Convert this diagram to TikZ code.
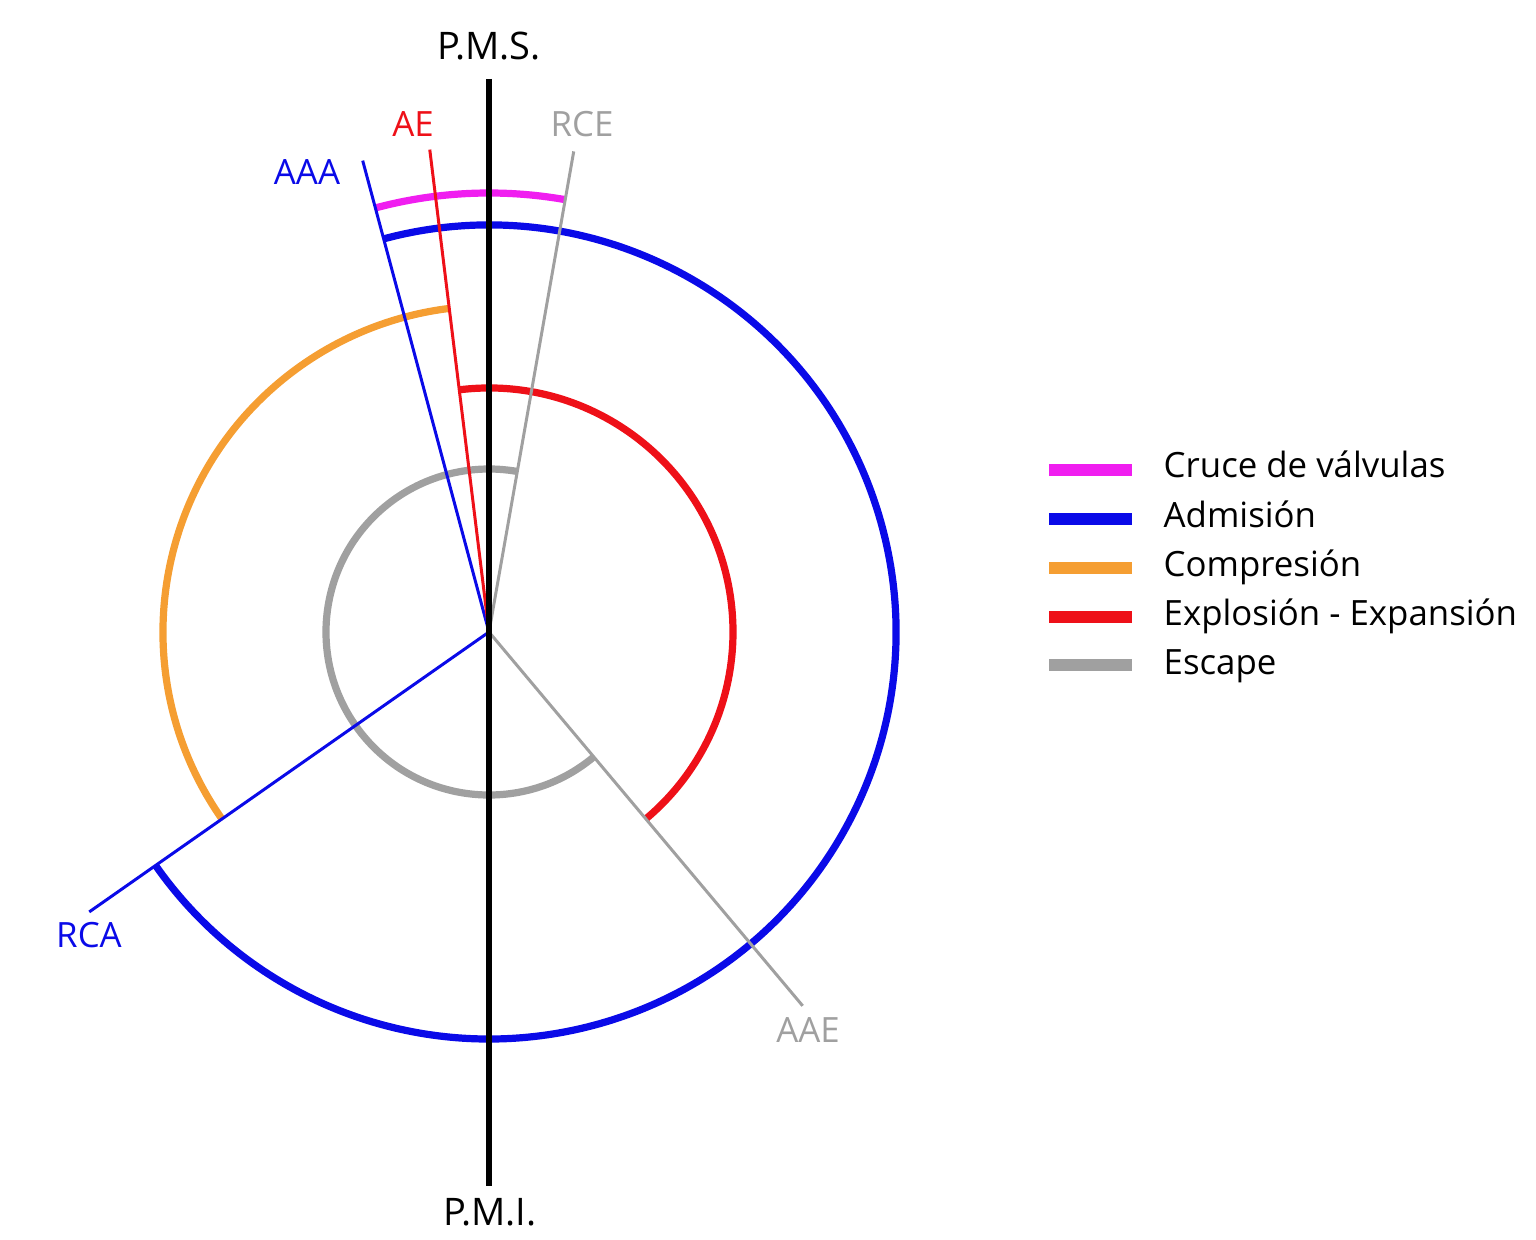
\documentclass[tikz,border=0pt]{standalone}
\usepackage{fontspec}
\setmainfont{Open Sans}
\definecolor{cblue}{RGB}{10,10,232}
\definecolor{cmag}{RGB}{240,30,240}
\definecolor{corange}{RGB}{245,158,50}
\definecolor{cred}{RGB}{238,16,24}
\definecolor{cgray}{RGB}{160,160,160}
\begin{document}
\begin{tikzpicture}[x=0.01cm,y=0.01cm,
  thickarc/.style={line width=2.05pt},
  thinline/.style={line width=0.85pt},
  legbar/.style={line width=3.4pt},
  lbl/.style={anchor=base,inner sep=0pt,font=\fontsize{9.9}{12}\selectfont},
  biglbl/.style={anchor=base,inner sep=0pt,font=\fontsize{10.8}{13}\selectfont},
  legtxt/.style={anchor=base west,inner sep=0pt,font=\fontsize{9.9}{12}\selectfont}]
\useasboundingbox (-489,632) rectangle (1047,-607);
\coordinate (O) at (0,0);
\coordinate (aaa) at (105:488);
\coordinate (ae) at (97:486);
\coordinate (rce) at (80:488);
\coordinate (rca) at (215:488);
\coordinate (aae) at (310:488);
\coordinate (pmsT) at (0,553);
\coordinate (pmiB) at (0,-554);
% arcs
\draw[thickarc,cmag] (105:439) arc[start angle=105,end angle=80,radius=439];
\draw[thickarc,cblue] (105:407) arc[start angle=105,end angle=-145,radius=407];
\draw[thickarc,corange] (215:326) arc[start angle=215,end angle=97,radius=326];
\draw[thickarc,cred] (97:244) arc[start angle=97,end angle=-50,radius=244];
\draw[thickarc,cgray] (310:163) arc[start angle=310,end angle=80,radius=163];
% radial lines
\draw[thinline,cblue] (O) -- (aaa);
\draw[thinline,cred] (O) -- (ae);
\draw[thinline,cgray] (O) -- (rce);
\draw[thinline,cblue] (O) -- (rca);
\draw[thinline,cgray] (O) -- (aae);
\draw[line width=1.8pt,black] (pmsT) -- (pmiB);
% labels
\node[biglbl] (pms) at (0,572) {P.M.S.};
\node[biglbl] (pmi) at (1,-593) {P.M.I.};
\node[lbl,cred] (lae) at (-76,495) {AE};
\node[lbl,cgray] (lrce) at (93,495) {RCE};
\node[lbl,cblue] (laaa) at (-182,447) {AAA};
\node[lbl,cblue] (lrca) at (-400,-315) {RCA};
\node[lbl,cgray] (laae) at (319,-410) {AAE};
% legend
\coordinate (l1a) at (560,162); \coordinate (l1b) at (643,162);
\coordinate (l2a) at (560,113); \coordinate (l2b) at (643,113);
\coordinate (l3a) at (560,64);  \coordinate (l3b) at (643,64);
\coordinate (l4a) at (560,15);  \coordinate (l4b) at (643,15);
\coordinate (l5a) at (560,-33); \coordinate (l5b) at (643,-33);
\draw[legbar,cmag] (l1a) -- (l1b);
\draw[legbar,cblue] (l2a) -- (l2b);
\draw[legbar,corange] (l3a) -- (l3b);
\draw[legbar,cred] (l4a) -- (l4b);
\draw[legbar,cgray] (l5a) -- (l5b);
\node[legtxt] (t1) at (674,155) {Cruce de válvulas};
\node[legtxt] (t2) at (674,105) {Admisión};
\node[legtxt] (t3) at (674,56) {Compresión};
\node[legtxt] (t4) at (674,7) {Explosión - Expansión};
\node[legtxt] (t5) at (674,-42) {Escape};
\end{tikzpicture}
\end{document}
